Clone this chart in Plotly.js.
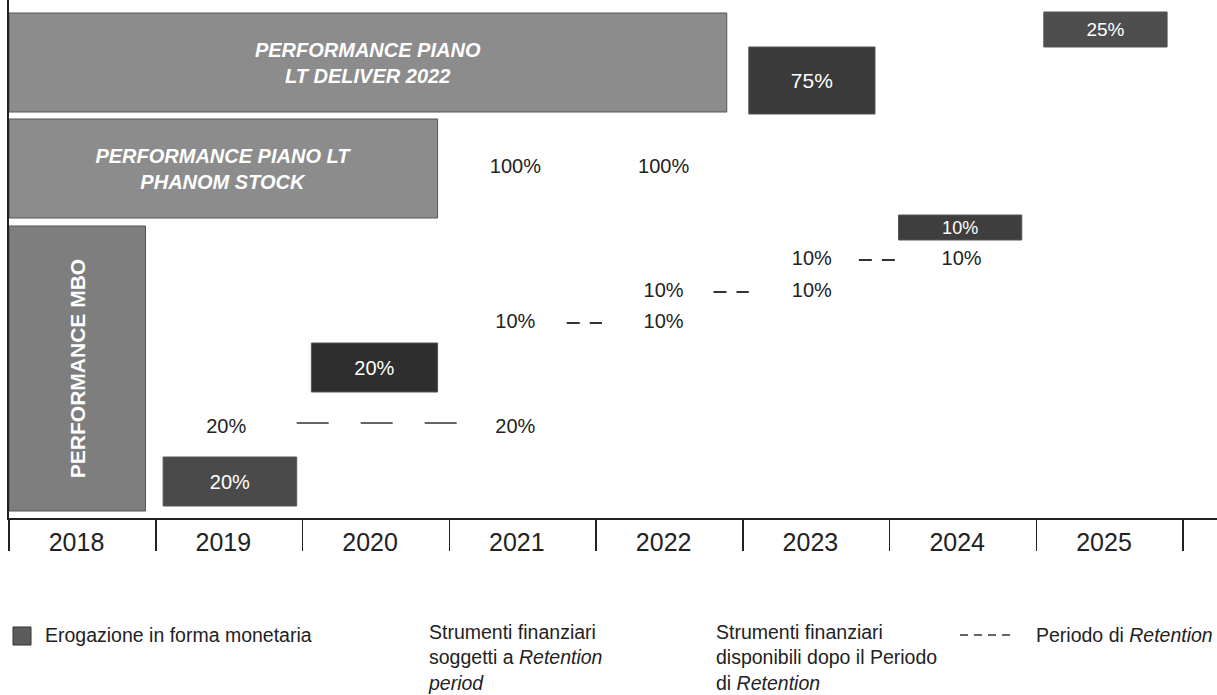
<!DOCTYPE html>
<html>
<head>
<meta charset="utf-8">
<script src="https://cdn.plot.ly/plotly-3.0.1.min.js"></script>
<style>html,body{margin:0;padding:0;background:#fff;}#chart{width:1217px;height:695px;}</style>
</head>
<body>
<div id="chart"></div>
<script>
// ---------- DATA ----------
const years = [2018, 2019, 2020, 2021, 2022, 2023, 2024, 2025];
const yearLabels = ['2018', '2019', '2020', '2021', '2022', '2023', '2024', '2025'];
const columnBounds = [2017.5, 2018.5, 2019.5, 2020.5, 2021.5, 2022.5, 2023.5, 2024.5, 2025.5];

// Bars of the timeline (start / end in years, vertical band low / high in chart units)
const barTexts = ['PERFORMANCE PIANO<br>LT DELIVER 2022', 'PERFORMANCE PIANO LT<br>PHANOM STOCK', 'PERFORMANCE MBO',
                  '75%', '25%', '10%', '20%', '20%'];
const barStart = [2017.5, 2017.5, 2017.5, 2022.54, 2024.55, 2023.56, 2019.56, 2018.55];
const barEnd   = [2022.39, 2020.42, 2018.43, 2023.40, 2025.39, 2024.40, 2020.42, 2019.46];
const barLow   = [406, 300, 7, 404, 471, 278, 126, 12];
const barHigh  = [505, 399, 292, 471, 506, 303, 175, 61];

// Financial instruments percentages (text marks)
const pctLabels = ['100%', '100%', '20%', '20%', '10%', '10%', '10%', '10%', '10%', '10%'];
const pctX = [2020.95, 2021.96, 2018.98, 2020.95, 2020.95, 2021.96, 2021.96, 2022.97, 2022.97, 2023.99];
const pctY = [350, 350, 90, 90, 195, 195, 226, 226, 258, 258];

// Retention periods (dashed segments)
const retStart = [2019.46, 2021.30, 2022.30, 2023.29];
const retEnd   = [2020.56, 2021.54, 2022.54, 2023.54];
const retY     = [95, 195, 226, 258];

// Legend texts
const legendTexts = ['Erogazione in forma monetaria',
                     'Strumenti finanziari<br>soggetti a <i>Retention</i><br><i>period</i>',
                     'Strumenti finanziari<br>disponibili dopo il Periodo<br>di <i>Retention</i>',
                     'Periodo di <i>Retention</i>'];

// ---------- STYLES ----------
const FONT = 'Liberation Sans, Arial, Helvetica, sans-serif';
const barColors = ['#8c8c8c', '#8c8c8c', '#7e7e7e', '#3a3a3a', '#4e4e4e', '#3e3e3e', '#2e2e2e', '#4a4a4a'];
const barTextStyle = [
  {size: 20, bold: true, angle: 0},
  {size: 20, bold: true, angle: 0},
  {size: 21, bold: true, angle: -90},
  {size: 21, bold: false, angle: 0},
  {size: 19, bold: false, angle: 0},
  {size: 18, bold: false, angle: 0},
  {size: 20, bold: false, angle: 0},
  {size: 20, bold: false, angle: 0}
];
const retDash = ['32px,32px', '13px,10px', '13px,10px', '13px,10px'];
const retWidth = [1.3, 2, 2, 2];

const traces = [];
barTexts.forEach((t, i) => {
  const st = barTextStyle[i];
  const txt = st.bold ? (i < 2 ? '<b><i>' + t.replace('<br>', '</i></b><br><b><i>') + '</i></b>' : '<b>' + t + '</b>') : t;
  traces.push({
    type: 'bar', orientation: 'h',
    y: [(barLow[i] + barHigh[i]) / 2],
    x: [barEnd[i] - barStart[i]],
    base: [barStart[i]],
    width: [barHigh[i] - barLow[i]],
    marker: {color: barColors[i], line: {width: 1, color: '#555'}},
    text: [txt],
    textposition: 'inside',
    insidetextanchor: 'middle',
    constraintext: 'none',
    textangle: st.angle,
    insidetextfont: {family: FONT, size: st.size, color: '#ffffff'},
    hoverinfo: 'skip'
  });
});

traces.push({
  type: 'scatter', mode: 'text',
  x: pctX, y: pctY, text: pctLabels,
  textposition: 'middle center',
  textfont: {family: FONT, size: 20, color: '#222'},
  hoverinfo: 'skip'
});

retStart.forEach((s, i) => {
  traces.push({
    type: 'scatter', mode: 'lines',
    x: [s, retEnd[i]], y: [retY[i], retY[i]],
    line: {color: '#333', width: retWidth[i], dash: retDash[i]},
    hoverinfo: 'skip'
  });
});

// paper-coordinate helpers for the legend block below the axis
const L = 9, W = 1208, H = 518;
const px = v => (v - L) / W;
const py = v => (H - v) / H;

const annotations = [
  {text: legendTexts[0], x: px(43), y: py(635), xanchor: 'left', yanchor: 'middle'},
  {text: legendTexts[1], x: px(426), y: py(619), xanchor: 'left', yanchor: 'top', align: 'left'},
  {text: legendTexts[2], x: px(714), y: py(619), xanchor: 'left', yanchor: 'top', align: 'left'},
  {text: legendTexts[3], x: px(1034), y: py(635), xanchor: 'left', yanchor: 'middle'}
].map(a => Object.assign({xref: 'paper', yref: 'paper', showarrow: false,
  font: {family: FONT, size: 19.5, color: '#222'}}, a));

const shapes = [
  {type: 'rect', xref: 'paper', yref: 'paper', x0: px(13), x1: px(31), y0: py(645), y1: py(627),
   fillcolor: '#5c5c5c', line: {color: '#333', width: 1}},
  {type: 'line', xref: 'paper', yref: 'paper', x0: px(960), x1: px(1010), y0: py(635), y1: py(635),
   line: {color: '#333', width: 1.5, dash: '8px,6px'}}
];

const layout = {
  width: 1217, height: 695,
  margin: {l: 9, r: 0, t: 0, b: 177, pad: 0},
  paper_bgcolor: '#ffffff', plot_bgcolor: '#ffffff',
  showlegend: false, barmode: 'overlay', hovermode: false,
  xaxis: {
    range: [2017.5, 2025.73],
    showline: true, linecolor: '#222', linewidth: 2,
    showgrid: false, zeroline: false,
    tickmode: 'array', tickvals: years.map(v => v - 0.04), ticktext: yearLabels,
    ticks: 'outside', ticklen: 1, tickcolor: 'rgba(0,0,0,0)',
    tickfont: {family: FONT, size: 25, color: '#222'},
    minor: {tickmode: 'array', tickvals: columnBounds, ticks: 'outside', ticklen: 31,
            tickwidth: 1.5, tickcolor: '#222', showgrid: false},
    fixedrange: true
  },
  yaxis: {
    range: [0, 518],
    showline: true, linecolor: '#222', linewidth: 2,
    showgrid: false, zeroline: false, showticklabels: false, ticks: '',
    fixedrange: true
  },
  annotations: annotations,
  shapes: shapes
};

Plotly.newPlot('chart', traces, layout, {staticPlot: true, displayModeBar: false});
</script>
</body>
</html>
